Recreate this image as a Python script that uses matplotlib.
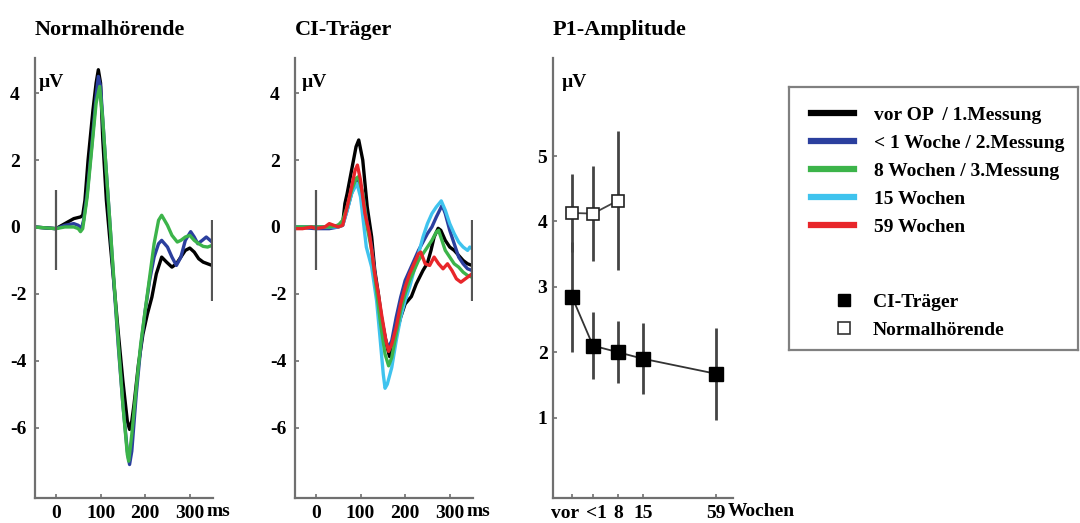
import numpy as np
import matplotlib
matplotlib.use('Agg')
import matplotlib.pyplot as plt
import matplotlib.transforms as mtransforms
from matplotlib.lines import Line2D

plt.rcParams['font.family'] = ['Liberation Serif', 'DejaVu Serif']
plt.rcParams['font.weight'] = 'bold'

### Waveforms Normalhoerende (ms, microvolt)
nh_black_t = [-50, 0, 20, 40, 55, 60, 65, 72, 83, 90, 95, 100, 105, 113, 120, 130, 140, 150, 160, 165,
              170, 175, 185, 195, 205, 215, 225, 237, 248, 260, 270, 280, 290, 300, 310, 320, 330, 340, 350]
nh_black_v = [0, -0.05, 0.1, 0.25, 0.3, 0.35, 0.8, 2.0, 3.5, 4.3, 4.7, 4.3, 2.6, 0.8, -0.25, -1.7, -3.2, -4.6, -5.8, -6.05,
              -5.8, -5.3, -4.1, -3.2, -2.6, -2.1, -1.4, -0.9, -1.05, -1.2, -1.1, -0.9, -0.7, -0.63, -0.75, -0.95, -1.05, -1.1, -1.15]

nh_blue_t = [-50, 0, 20, 40, 50, 57, 62, 70, 80, 90, 95, 100, 110, 120, 130, 140, 150, 160, 165,
             170, 180, 190, 200, 210, 220, 230, 237, 250, 260, 270, 280, 290, 302, 310, 318, 328, 337, 350]
nh_blue_v = [0, -0.05, 0.05, 0.1, 0.05, -0.05, 0.2, 1.0, 2.4, 3.9, 4.5, 4.2, 2.2, 0.3, -1.7, -3.6, -5.3, -6.7, -7.1,
             -6.7, -5.0, -3.6, -2.5, -1.6, -0.9, -0.5, -0.4, -0.6, -0.9, -1.15, -0.9, -0.4, -0.14, -0.3, -0.5, -0.4, -0.3, -0.45]

nh_green_t = [-50, 0, 20, 40, 50, 55, 60, 70, 80, 90, 98, 105, 110, 120, 130, 140, 150, 160, 163,
              170, 180, 190, 200, 210, 220, 230, 237, 250, 260, 272, 280, 290, 300, 310, 320, 330, 340, 350]
nh_green_v = [0, -0.05, 0.0, 0.0, -0.05, -0.14, -0.05, 0.9, 2.3, 3.7, 4.2, 3.2, 2.2, 0.3, -1.6, -3.5, -5.3, -6.8, -7.0,
              -6.2, -4.8, -3.5, -2.5, -1.5, -0.5, 0.2, 0.35, 0.05, -0.25, -0.45, -0.4, -0.3, -0.25, -0.4, -0.5, -0.58, -0.6, -0.55]

### Waveforms CI-Traeger
ci_black_t = [-50, 0, 30, 50, 60, 65, 70, 80, 90, 96, 105, 115, 125, 132, 140, 147, 158, 165,
              170, 180, 190, 200, 214, 225, 240, 250, 258, 265, 274, 280, 290, 300, 310, 320, 330, 340, 350]
ci_black_v = [0, 0, 0.0, 0.05, 0.1, 0.7, 1.0, 1.7, 2.4, 2.6, 2.0, 0.6, -0.3, -1.3, -2.0, -2.7, -3.5, -3.87,
              -3.7, -3.2, -2.7, -2.3, -2.08, -1.7, -1.3, -1.08, -0.7, -0.3, -0.04, -0.1, -0.4, -0.6, -0.7, -0.85, -1.0, -1.1, -1.15]

ci_blue_t = [-50, 0, 30, 50, 60, 70, 80, 90, 97, 105, 115, 125, 135, 145, 155, 162,
             170, 180, 190, 200, 210, 220, 230, 240, 250, 260, 270, 283, 290, 300, 310, 320, 330, 340, 350]
ci_blue_v = [0, -0.05, -0.05, 0.0, 0.05, 0.5, 1.0, 1.35, 1.4, 1.0, 0.1, -0.6, -1.7, -2.6, -3.3, -3.62,
             -3.4, -2.7, -2.1, -1.6, -1.3, -1.0, -0.7, -0.45, -0.2, 0.0, 0.3, 0.65, 0.4, -0.1, -0.5, -0.9, -1.1, -1.25, -1.3]

ci_green_t = [-50, 0, 30, 50, 60, 70, 80, 90, 95, 105, 115, 125, 135, 145, 155, 163,
              170, 180, 190, 200, 210, 220, 230, 240, 250, 260, 270, 275, 280, 290, 300, 310, 320, 330, 340, 350]
ci_green_v = [0, 0, 0.0, 0.05, 0.2, 0.6, 1.1, 1.45, 1.5, 1.0, 0.0, -0.7, -1.8, -2.9, -3.8, -4.15,
              -3.9, -3.2, -2.5, -2.0, -1.6, -1.3, -1.0, -0.8, -0.6, -0.4, -0.15, -0.1, -0.3, -0.7, -0.9, -1.1, -1.2, -1.35, -1.45, -1.5]

ci_cyan_t = [-50, 0, 30, 50, 60, 70, 80, 92, 100, 113, 125, 136, 143, 151, 155, 160,
             170, 180, 190, 200, 210, 220, 230, 240, 250, 260, 270, 281, 290, 300, 310, 320, 330, 340, 345, 350]
ci_cyan_v = [0, 0, 0.0, 0.0, 0.05, 0.5, 1.0, 1.3, 0.9, -0.6, -1.2, -2.2, -3.2, -4.4, -4.82, -4.7,
             -4.2, -3.4, -2.7, -2.2, -1.8, -1.3, -0.8, -0.3, 0.1, 0.4, 0.6, 0.78, 0.5, 0.1, -0.2, -0.45, -0.6, -0.7, -0.6, -0.65]

ci_red_t = [-50, -30, -10, 0, 20, 30, 40, 50, 60, 70, 80, 88, 93, 100, 110, 120, 132, 140, 147, 157, 163,
            170, 180, 190, 200, 210, 220, 230, 235, 245, 255, 265, 275, 285, 295, 305, 315, 325, 335, 345, 350]
ci_red_v = [-0.05, -0.05, 0.0, -0.05, 0.0, 0.1, 0.05, 0.0, 0.05, 0.6, 1.2, 1.7, 1.85, 1.4, 0.4, -0.2, -1.4, -2.0, -2.6, -3.4, -3.72,
            -3.5, -3.0, -2.3, -1.8, -1.4, -1.1, -0.8, -0.75, -1.1, -1.15, -0.9, -1.1, -1.25, -1.1, -1.3, -1.55, -1.65, -1.55, -1.45, -1.4]

### P1-Amplitude
p1_labels = ['vor', '<1', '8', '15', '59']
p1_pos = [0, 0.84, 1.84, 2.84, 5.76]
ci_p1 = [2.85, 2.1, 2.0, 1.9, 1.67]
ci_p1_sd = [0.84, 0.51, 0.47, 0.54, 0.70]
nh_p1 = [4.13, 4.12, 4.32]
nh_p1_sd = [0.6, 0.73, 1.07]

legend_labels = ['vor OP  / 1.Messung', '< 1 Woche / 2.Messung', '8 Wochen / 3.Messung', '15 Wochen', '59 Wochen']
colors = ['#000000', '#2b3f9e', '#3cb44a', '#3fc3ee', '#e8262a']

spine_col = '#707070'
lw = 2.4

fig = plt.figure(figsize=(10.8, 5.23), dpi=100)

def style_axes(ax, lpad):
    for s in ['top', 'right']:
        ax.spines[s].set_visible(False)
    for s in ['left', 'bottom']:
        ax.spines[s].set_color(spine_col)
        ax.spines[s].set_linewidth(1.6)
    ax.tick_params(axis='both', direction='in', length=3, width=1.2, color=spine_col, labelsize=14)
    ax.tick_params(axis='x', pad=5)
    ax.tick_params(axis='y', pad=lpad)
    for lab in ax.get_yticklabels():
        lab.set_horizontalalignment('left')

def erp_panel(rect, title, series, uv_x):
    ax = fig.add_axes(rect)
    for (t, v), c in series:
        ax.plot(t, v, color=c, lw=lw, solid_joinstyle='round', solid_capstyle='round')
    ax.vlines([0], -1.3, 1.1, color='#555555', lw=1.6, zorder=5)
    ax.vlines([350], -2.2, 0.2, color='#555555', lw=1.6, zorder=5)
    ax.set_xlim(-47, 352)
    ax.set_ylim(-8.1, 5.05)
    ax.set_xticks([0, 100, 200, 300])
    ax.set_yticks([-6, -4, -2, 0, 2, 4])
    ax.set_yticklabels(['-6', '-4', '-2', '0', '2', '4'])
    style_axes(ax, 18)
    ax.text(0.966, -0.012, 'ms', transform=ax.transAxes, ha='left', va='top', fontsize=14)
    ax.text(uv_x, 0.945, 'µV', transform=ax.transAxes, ha='left', va='center', fontsize=14)
    ax.text(0.0, 1.063, title, transform=ax.transAxes, ha='left', va='center', fontsize=16)
    return ax

ax1 = erp_panel([0.0324, 0.0478, 0.1648, 0.8413], 'Normalhörende',
                [((nh_black_t, nh_black_v), colors[0]),
                 ((nh_blue_t, nh_blue_v), colors[1]),
                 ((nh_green_t, nh_green_v), colors[2])], 0.02)

ax2 = erp_panel([0.2731, 0.0478, 0.1648, 0.8413], 'CI-Träger',
                [((ci_black_t, ci_black_v), colors[0]),
                 ((ci_blue_t, ci_blue_v), colors[1]),
                 ((ci_cyan_t, ci_cyan_v), colors[3]),
                 ((ci_green_t, ci_green_v), colors[2]),
                 ((ci_red_t, ci_red_v), colors[4])], 0.04)

### P1 panel
ax3 = fig.add_axes([0.512, 0.0478, 0.1667, 0.8413])
ax3.errorbar(p1_pos[:3], nh_p1, yerr=nh_p1_sd, fmt='-s', color='#444444', ecolor='#444444', elinewidth=2,
             lw=1.3, mfc='white', mec='#222222', mew=1.2, ms=9, capsize=0, zorder=3)
ax3.errorbar(p1_pos, ci_p1, yerr=ci_p1_sd, fmt='-s', color='#333333', ecolor='#444444', elinewidth=2,
             lw=1.3, mfc='black', mec='black', ms=10, capsize=0, zorder=4)
ax3.set_xlim(-0.76, 6.44)
ax3.set_ylim(-0.23, 6.5)
ax3.set_xticks(p1_pos)
ax3.set_xticklabels(p1_labels)
ax3.set_yticks([1, 2, 3, 4, 5])
style_axes(ax3, 11)
# nudge the first two crowded week labels apart
xlabs = ax3.get_xticklabels()
xlabs[0].set_transform(xlabs[0].get_transform() + mtransforms.ScaledTranslation(-5 / 72, 0, fig.dpi_scale_trans))
xlabs[1].set_transform(xlabs[1].get_transform() + mtransforms.ScaledTranslation(2.5 / 72, 0, fig.dpi_scale_trans))
ax3.text(0.972, -0.012, 'Wochen', transform=ax3.transAxes, ha='left', va='top', fontsize=14)
ax3.text(0.05, 0.945, 'µV', transform=ax3.transAxes, ha='left', va='center', fontsize=14)
ax3.text(0.0, 1.063, 'P1-Amplitude', transform=ax3.transAxes, ha='left', va='center', fontsize=16)

### Legend box
lax = fig.add_axes([0.7306, 0.3308, 0.268, 0.503])
lax.set_xticks([])
lax.set_yticks([])
for s in lax.spines.values():
    s.set_color('#808080')
    s.set_linewidth(1.6)

line_handles = [Line2D([], [], color=c, lw=4.5) for c in colors]
leg1 = lax.legend(line_handles, legend_labels, loc='upper left', bbox_to_anchor=(0.076, 0.926),
                  frameon=False, fontsize=14, handlelength=2.2, handletextpad=1.05,
                  labelspacing=0.53, borderpad=0, borderaxespad=0)
lax.add_artist(leg1)
mark_handles = [Line2D([], [], ls='none', marker='s', ms=8, mfc='black', mec='black'),
                Line2D([], [], ls='none', marker='s', ms=8, mfc='white', mec='#333333', mew=1.2)]
leg2 = lax.legend(mark_handles, ['CI-Träger', 'Normalhörende'], loc='upper left', bbox_to_anchor=(0.156, 0.216),
                  frameon=False, fontsize=14, handlelength=1.0, handletextpad=1.0,
                  labelspacing=0.53, borderpad=0, borderaxespad=0)

fig.savefig('out.png', dpi=100)
